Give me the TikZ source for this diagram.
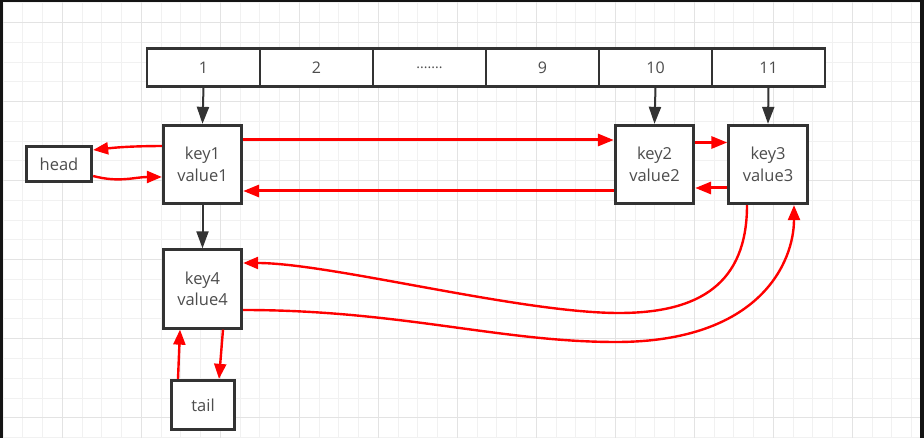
\documentclass[tikz,border=0pt]{standalone}
\usepackage{fontspec}
\setmainfont{Open Sans}
\usetikzlibrary{arrows.meta,calc}
\definecolor{boxline}{HTML}{333333}
\definecolor{txt}{HTML}{4D4D4D}
\definecolor{gridminor}{HTML}{F1F1F1}
\definecolor{gridmajor}{HTML}{E3E3E3}
\definecolor{redline}{HTML}{FF0000}
\begin{document}
\begin{tikzpicture}[x=1pt,y=1pt,
  cell/.style={draw=boxline,line width=2.6pt,fill=white,minimum width=113pt,minimum height=37.5pt,inner sep=0pt,text=txt,font=\fontsize{16}{18}\selectfont},
  kv/.style={draw=boxline,line width=2.8pt,fill=white,minimum width=78.5pt,minimum height=78.5pt,inner sep=0pt,align=center,text=txt,font=\fontsize{16.5}{21.5}\selectfont},
  endbox/.style={draw=boxline,line width=2.8pt,fill=white,inner sep=0pt,text=txt,font=\fontsize{16.5}{19}\selectfont},
  blackarrow/.style={draw=boxline,line width=2pt,-{Triangle[length=17pt,width=12pt]}},
  redarrow/.style={draw=redline,line width=3pt,-{Triangle[length=16pt,width=12pt]}},
  redcurve/.style={draw=redline,line width=2.4pt,-{Triangle[length=15pt,width=12pt]}}
]
\useasboundingbox (0,0) rectangle (924,-438);
% background grid
\fill[white] (0,0) rectangle (924,-438);
\foreach \i in {0,...,47} {
  \pgfmathsetmacro\gx{3+19.75*\i}
  \draw[gridminor,line width=1pt] (\gx,0) -- (\gx,-438);
}
\foreach \i in {0,...,22} {
  \pgfmathsetmacro\gy{3+19.75*\i}
  \draw[gridminor,line width=1pt] (0,-\gy) -- (924,-\gy);
}
\foreach \i in {3,7,...,47} {
  \pgfmathsetmacro\gx{3+19.75*\i}
  \draw[gridmajor,line width=1pt] (\gx,0) -- (\gx,-438);
}
\foreach \i in {1,5,...,21} {
  \pgfmathsetmacro\gy{3+19.75*\i}
  \draw[gridmajor,line width=1pt] (0,-\gy) -- (924,-\gy);
}
% frame
\fill[black!92] (0,0) rectangle (924,-2.5);
\fill[black!92] (0,0) rectangle (2.5,-438);
\fill[black!92] (920,0) rectangle (924,-438);

% array
\node[cell] (c1) at (203.5,-67.5) {1};
\node[cell] (c2) at (316.5,-67.5) {2};
\node[cell] (c3) at (429.5,-67.5) {\fontsize{14}{16}\selectfont .......};
\node[cell] (c4) at (542.5,-67.5) {9};
\node[cell] (c5) at (655.5,-67.5) {10};
\node[cell] (c6) at (768.5,-67.5) {11};

% entries
\node[kv] (key1) at (202.5,-164.5) {key1\\value1};
\node[kv] (key2) at (654.5,-164.5) {key2\\value2};
\node[kv] (key3) at (768,-164.5) {key3\\value3};
\node[kv] (key4) at (202.5,-289) {key4\\value4};
\node[endbox,minimum width=65.5pt,minimum height=35.5pt] (head) at (59,-164) {head};
\node[endbox,minimum width=63.5pt,minimum height=49.5pt] (tail) at (203,-405) {tail};

% black arrows
\draw[blackarrow] (c1.south) -- (key1.north);
\draw[blackarrow] (c5.south) -- (key2.north);
\draw[blackarrow] (c6.south) -- (key3.north);
\draw[blackarrow] (key1.south) -- (key4.north);

% red links
\draw[redarrow] ([yshift=24.5pt]key1.east) -- ([yshift=24.5pt]key2.west);
\draw[redarrow] ([yshift=-26.5pt]key2.west) -- ([yshift=-26.5pt]key1.east);
\draw[redarrow] ([yshift=22pt]key2.east) -- ([yshift=22pt]key3.west);
\draw[redarrow] ([yshift=-23.5pt]key3.west) -- ([yshift=-23.5pt]key2.east);
\draw[redcurve] ([yshift=18.5pt]key1.west) to[bend right=3] ([yshift=14pt]head.east);
\draw[redcurve] ([yshift=-12pt]head.east) to[out=-15,in=180] ([yshift=-12.5pt]key1.west);

\coordinate (low1) at (619,-313);
\coordinate (low2) at (616,-342);
\draw[redcurve] ([xshift=-21pt]key3.south) .. controls +(0,-78) and (700,-313) .. (low1)
  .. controls (520,-313) and (330,-263) .. ([yshift=26pt]key4.east);
\draw[redcurve] ([yshift=-21pt]key4.east) .. controls (400,-310) and (500,-342) .. (low2)
  .. controls (760,-342) and (794,-262) .. ([xshift=26pt]key3.south);

\draw[redcurve] ([xshift=-25pt]tail.north) -- ([xshift=-22.5pt]key4.south);
\draw[redcurve] ([xshift=20.5pt]key4.south) -- ([xshift=16pt]tail.north);
\end{tikzpicture}
\end{document}
